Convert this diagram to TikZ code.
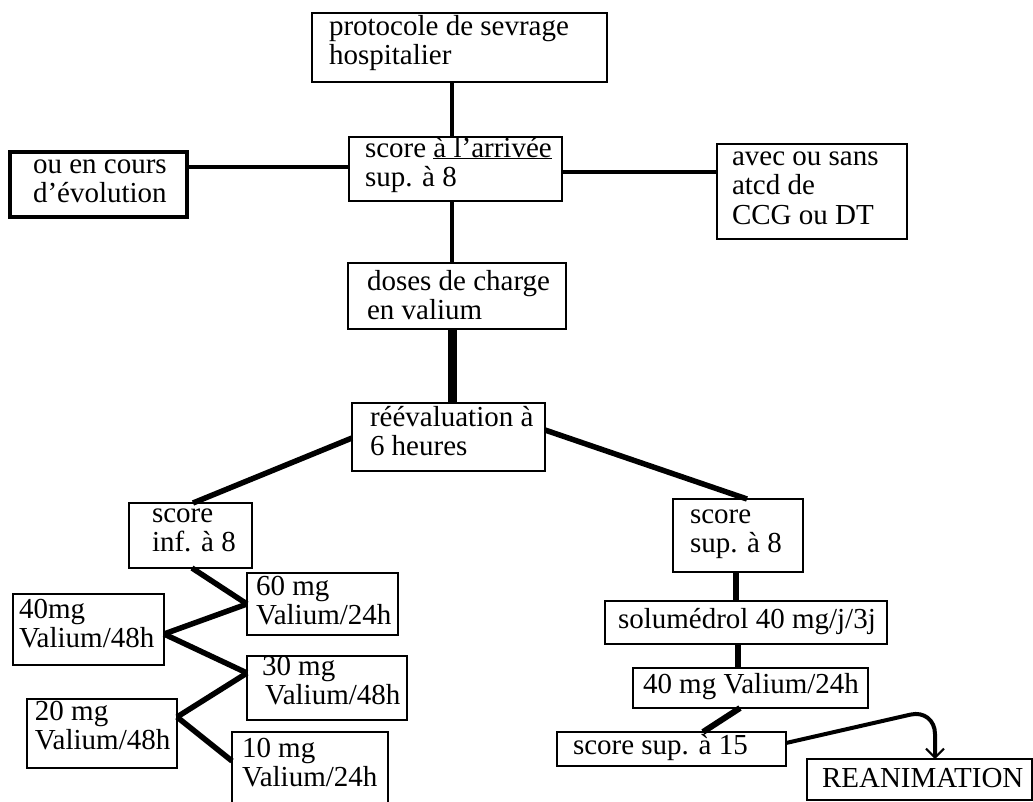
\documentclass[tikz,border=0pt]{standalone}
\usepackage{fontspec}
\setmainfont{Liberation Serif}
\usetikzlibrary{arrows.meta}
\newcommand\bt[5]{\vbox to #2pt{\hsize=#1pt\relax\parindent=0pt\leftskip=#3pt\relax\rightskip=0pt plus 1fil\relax\parfillskip=0pt plus 1fil\relax\hyphenpenalty=10000\relax\baselineskip=29.5pt\relax\lineskiplimit=-100pt\relax\vskip\dimexpr#4pt-20.65pt\relax\noindent\vrule height 20.65pt depth 0pt width 0pt #5\par\vss}}
\begin{document}
\begin{tikzpicture}[x=1pt,y=-1pt,
  bx/.style={draw, line width=1.8pt, rectangle, inner sep=0pt, outer sep=0pt, anchor=north west, font=\fontsize{29}{29.5}\selectfont},
  thickbx/.style={bx, line width=4pt},
  ln/.style={line width=#1}]
\fill[white] (0,0) rectangle (1033,801);
\useasboundingbox (0,0) rectangle (1033,801);
% boxes
\node[bx] (b1) at (312,13) {\bt{295}{69}{17}{22}{protocole de sevrage\\hospitalier}};
\node[bx] (b2) at (349,137) {\bt{213}{64}{16}{20}{score \underline{à l'arrivée}\\sup. à 8}};
\node[thickbx] (bL) at (10,152) {\bt{177}{65}{23}{21}{ou en cours\\d'évolution}};
\node[bx] (bR) at (717,144) {\bt{190}{95}{15}{21}{avec ou sans\\atcd de\\CCG ou DT}};
\node[bx] (b3) at (348,263) {\bt{218}{66}{19}{27}{doses de charge\\en valium}};
\node[bx] (b4) at (352,403) {\bt{193}{68}{18}{23}{réévaluation à\\6 heures}};
\node[bx] (inf8) at (129,503) {\bt{123}{65}{23}{19}{score\\inf. à 8}};
\node[bx] (m60) at (247,573) {\bt{151}{62}{9}{22}{60 mg\\Valium/24h}};
\node[bx] (m40) at (13,594) {\bt{151}{71}{6}{24}{40mg\\Valium/48h}};
\node[bx] (m30) at (247,656) {\bt{160}{64}{15}{19}{30 mg\\\hspace*{3pt}Valium/48h}};
\node[bx] (m20) at (27,699) {\bt{150}{69}{8}{21}{20 mg\\Valium/48h}};
\node[bx] (m10) at (232,732) {\bt{156}{75}{10}{25}{10 mg\\Valium/24h}};
\node[bx] (sup8) at (673,499) {\bt{130}{73}{17}{24}{score\\sup. à 8}};
\node[bx] (solu) at (605,601) {\bt{282}{43}{13}{27}{solumédrol 40 mg/j/3j}};
\node[bx] (v24) at (633,668) {\bt{235}{40}{10}{25}{40 mg Valium/24h}};
\node[bx] (s15) at (557,732) {\bt{229}{34}{16}{22}{score sup. à 15}};
\node[bx] (rea) at (807,759) {\bt{225}{41}{15}{28}{REANIMATION}};
% connectors
\draw[ln=4pt] ([xshift=-7.5]b1.south) -- ([xshift=-3.5]b2.north);
\draw[ln=3.5pt] ([yshift=2]b2.west) -- ([yshift=17.5]bL.east);
\draw[ln=3.5pt] ([yshift=-3]b2.east) -- ([yshift=19.5]bR.west);
\draw[ln=4pt] ([xshift=-3.5]b2.south) -- ([xshift=-5]b3.north);
\draw[ln=9pt] ([xshift=-5]b3.south) -- ([xshift=3.5]b4.north);
\draw[ln=5.5pt] ([yshift=-1]b4.west) -- ([xshift=2.5]inf8.north);
\draw[ln=5.5pt] ([yshift=7]b4.east) -- ([xshift=9]sup8.north);
\draw[ln=5.5pt] ([xshift=1.5]inf8.south) -- (m60.west);
\draw[ln=5.5pt] ([yshift=-4.5]m40.east) -- (m60.west);
\draw[ln=5.5pt] ([yshift=-4.5]m40.east) -- ([yshift=15]m30.west);
\draw[ln=5.5pt] ([yshift=16.5]m20.east) -- ([yshift=15]m30.west);
\draw[ln=5.5pt] ([yshift=16.5]m20.east) -- ([yshift=8.5]m10.west);
\draw[ln=6pt] ([xshift=-2]sup8.south) -- ([xshift=-10]solu.north);
\draw[ln=6pt] ([xshift=-8]solu.south) -- ([xshift=-12.5]v24.north);
\draw[ln=6pt] ([xshift=-10.5]v24.south) -- ([xshift=31.5]s15.north);
\coordinate (bend) at (935,709);
\draw[ln=4pt, rounded corners=25pt, -{Straight Barb[length=9pt,width=18pt,line width=2pt]}] ([yshift=6]s15.east) -- (bend) -- ([xshift=15.5]rea.north);
\end{tikzpicture}
\end{document}
